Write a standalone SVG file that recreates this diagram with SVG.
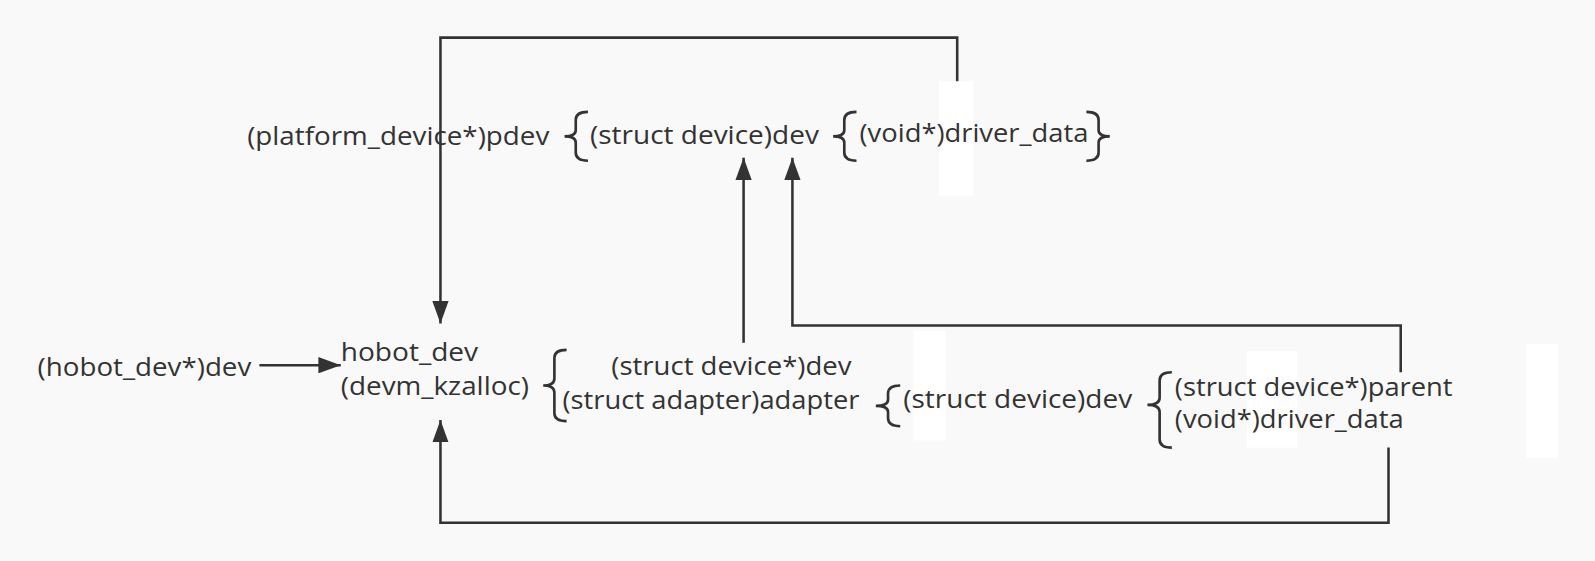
<svg xmlns="http://www.w3.org/2000/svg" width="1595" height="561" viewBox="0 0 1595 561">
<style>
text{font-family:"Open Sans","Noto Sans","Liberation Sans",sans-serif;font-size:25px;fill:#333}
.c{fill:none;stroke:#333;stroke-width:2.5}
.b{fill:none;stroke:#333;stroke-width:2.6}
</style>
<defs>
<marker id="ah2" viewBox="0 0 22 16" refX="22" refY="8" markerWidth="22" markerHeight="16" markerUnits="userSpaceOnUse" orient="auto">
<path d="M0,0 L22,8 L0,16 Z" fill="#333"/>
</marker>
</defs>
<rect width="1595" height="561" fill="#f9f9f9"/>
<g transform="scale(1.01722)">
<g id="connectors">
<path class="c" d="M941,80 V37 H433 V318" marker-end="url(#ah2)"/>
<path class="c" d="M255,359 H335" marker-end="url(#ah2)"/>
<path class="c" d="M1365,440 V514 H433 V413" marker-end="url(#ah2)"/>
<path class="c" d="M731,337 V155" marker-end="url(#ah2)"/>
<path class="c" d="M1377,366 V320 H779 V155" marker-end="url(#ah2)"/>
</g>
<g id="artifacts" fill="#ffffff">
<rect x="923" y="80" width="34" height="113"/>
<rect x="898" y="325" width="32" height="108"/>
<rect x="1226" y="345" width="49" height="95"/>
<rect x="1500" y="338" width="32" height="112"/>
</g>
<g id="pdev"><text x="243" y="143" textLength="297" lengthAdjust="spacingAndGlyphs">(platform_device*)pdev</text>
<path class="b" d="M578,110 Q566,110 566,118 V128 Q566,134 555,134 Q566,134 566,140 V150 Q566,158 578,158"/></g>
<g id="pdev-dev"><text x="580" y="142" textLength="225" lengthAdjust="spacingAndGlyphs">(struct device)dev</text>
<path class="b" d="M842,110 Q830,110 830,118 V128 Q830,134 819,134 Q830,134 830,140 V150 Q830,158 842,158"/></g>
<g id="pdev-driver-data"><text x="845" y="140" textLength="225" lengthAdjust="spacingAndGlyphs">(void*)driver_data</text>
<path class="b" d="M1068,110 Q1080,110 1080,118 V128 Q1080,134 1091,134 Q1080,134 1080,140 V150 Q1080,158 1068,158"/></g>
<g id="hobot-ptr"><text x="37" y="370" textLength="210" lengthAdjust="spacingAndGlyphs">(hobot_dev*)dev</text></g>
<g id="hobot-dev"><text x="335" y="355" textLength="135" lengthAdjust="spacingAndGlyphs">hobot_dev</text>
<text x="335" y="388" textLength="185" lengthAdjust="spacingAndGlyphs">(devm_kzalloc)</text>
<path class="b" d="M557,344 Q545,344 545,352 V372 Q545,379 534,379 Q545,379 545,386 V406 Q545,414 557,414"/></g>
<g id="adapter"><text x="601" y="369" textLength="236" lengthAdjust="spacingAndGlyphs">(struct device*)dev</text>
<text x="553" y="402" textLength="292" lengthAdjust="spacingAndGlyphs">(struct adapter)adapter</text>
<path class="b" d="M885,379 Q873,379 873,387 V393 Q873,399 861,399 Q873,399 873,405 V411 Q873,419 885,419"/></g>
<g id="adapter-dev"><text x="888" y="401" textLength="225" lengthAdjust="spacingAndGlyphs">(struct device)dev</text>
<path class="b" d="M1152,366 Q1140,366 1140,374 V391 Q1140,398 1128,398 Q1140,398 1140,405 V432 Q1140,440 1152,440"/></g>
<g id="adapter-dev-fields"><text x="1155" y="389" textLength="273" lengthAdjust="spacingAndGlyphs">(struct device*)parent</text>
<text x="1155" y="421" textLength="225" lengthAdjust="spacingAndGlyphs">(void*)driver_data</text></g>
</g>
</svg>
